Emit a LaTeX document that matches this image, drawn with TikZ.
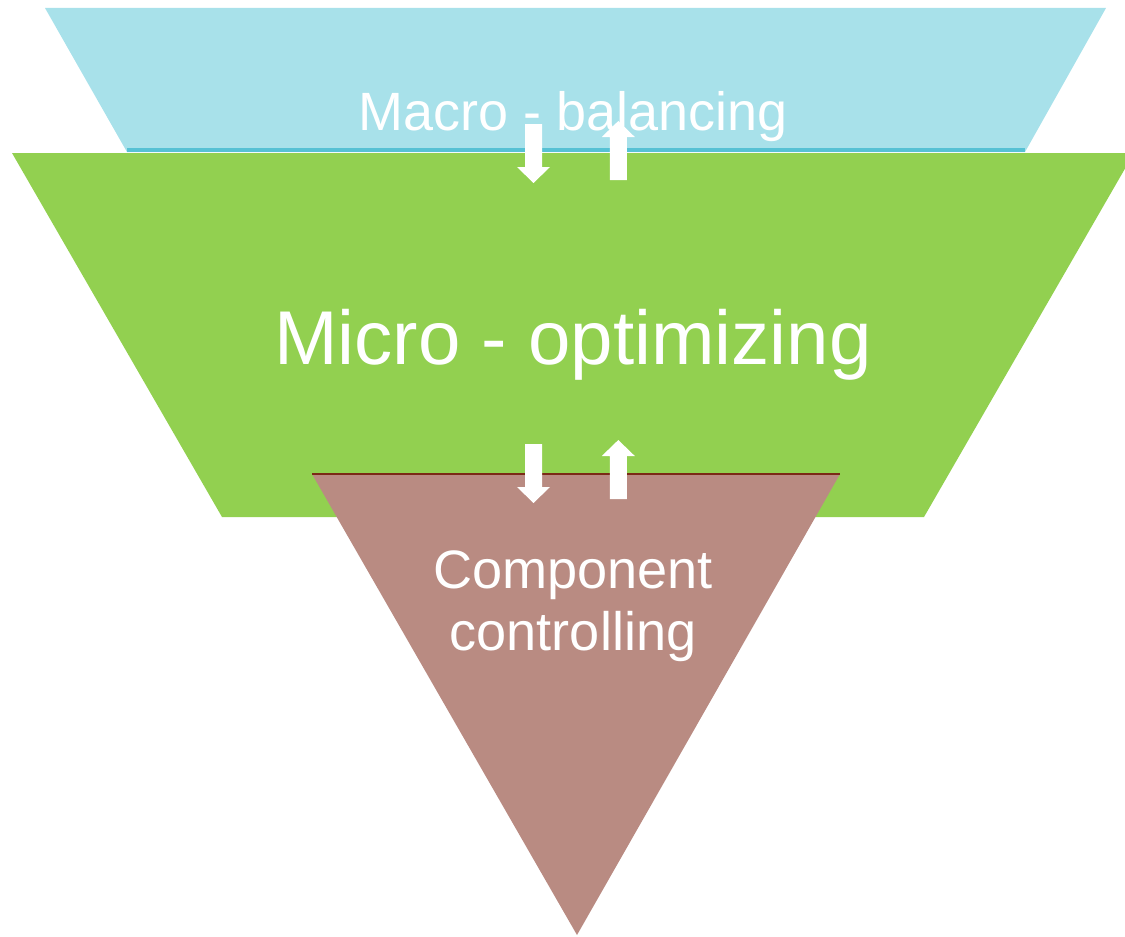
\documentclass[tikz,border=0pt]{standalone}
\usepackage{fontspec}
\setmainfont{Liberation Sans}
\usetikzlibrary{calc}
\definecolor{macrofill}{HTML}{A8E1EA}
\definecolor{macroedge}{HTML}{56C1D4}
\definecolor{microfill}{HTML}{92D050}
\definecolor{compfill}{HTML}{B98B82}
\definecolor{compedge}{HTML}{7B2A16}

\begin{document}
\begin{tikzpicture}[x=0.02cm, y=-0.02cm,
  layertext/.style={text=white, inner sep=0pt, anchor=base},
  blockarrow/.pic={\fill[white] (-8.5,0) -- (-8.5,43) -- (-16.5,43) -- (0,59) -- (16.5,43) -- (8.5,43) -- (8.5,0) -- cycle;}]
  \useasboundingbox (0,0) rectangle (1125,936);
  \clip (0,0) rectangle (1125,936);

  % top layer
  \coordinate (b1) at (45,8);
  \coordinate (b2) at (1106,8);
  \coordinate (b3) at (1025,152);
  \coordinate (b4) at (127,152);
  % middle layer
  \coordinate (g1) at (12,153);
  \coordinate (g2) at (1134,153);
  \coordinate (g3) at (924,517);
  \coordinate (g4) at (222,517);
  % bottom layer
  \coordinate (r1) at (312,474);
  \coordinate (r2) at (840,474);
  \coordinate (r3) at (577,935);

  \fill[macrofill] (b1) -- (b2) -- (b3) -- (b4) -- cycle;
  \draw[macroedge, line width=2.2pt] ($(b4)+(0,-2)$) -- ($(b3)+(0,-2)$);
  \fill[microfill] (g1) -- (g2) -- (g3) -- (g4) -- cycle;
  \fill[compfill] (r1) -- (r2) -- (r3) -- cycle;
  \draw[compedge, line width=1.1pt] (r1) -- (r2);

  \node[layertext, font=\fontsize{30.7}{35}\selectfont] (macro) at (573,131) {Macro - balancing};
  \node[layertext, font=\fontsize{43.4}{50}\selectfont] (micro) at (573,364) {Micro - optimizing};
  \node[layertext, align=center, font=\fontsize{30.8}{35}\selectfont] (comp) at (573,650) {Component\\controlling};

  \pic at (533.5,124) {blockarrow};
  \pic[rotate=180] at (618.3,180) {blockarrow};
  \pic at (533.5,444) {blockarrow};
  \pic[rotate=180] at (618.3,499) {blockarrow};
\end{tikzpicture}
\end{document}
